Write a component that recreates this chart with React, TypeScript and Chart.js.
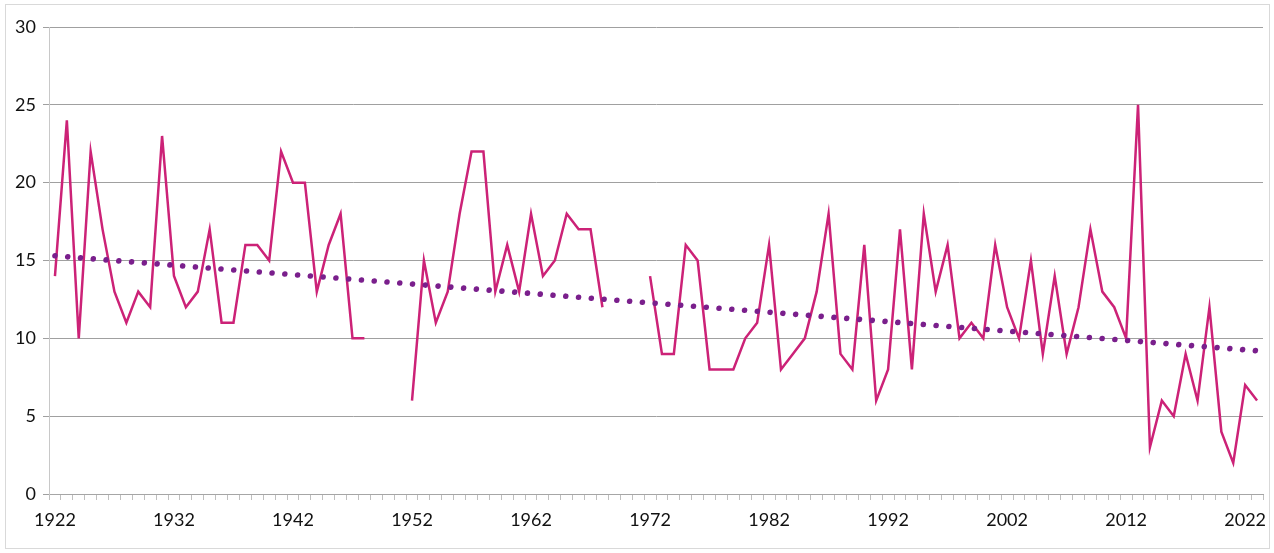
import React, { useEffect, useRef } from "react";
import { Chart, registerables } from "chart.js";

Chart.register(...registerables);

const FIRST_YEAR = 1922;
const YEARS: string[] = Array.from({ length: 102 }, (_, i) => String(FIRST_YEAR + i));

// Values per year, 1922–2023 (null = no data)
const VALUES_1922_1948: (number | null)[] = [
  14, 24, 10, 22, 17, 13, 11, 13, 12, 23,
  14, 12, 13, 17, 11, 11, 16, 16, 15, 22,
  20, 20, 13, 16, 18, 10, 10,
];
const VALUES_1949_1951: (number | null)[] = [null, null, null];
const VALUES_1952_1968: (number | null)[] = [
  6, 15, 11, 13, 18, 22, 22, 13, 16, 13,
  18, 14, 15, 18, 17, 17, 12,
];
const VALUES_1969_1971: (number | null)[] = [null, null, null];
const VALUES_1972_2023: (number | null)[] = [
  14, 9, 9, 16, 15, 8, 8, 8, 10, 11,
  16, 8, 9, 10, 13, 18, 9, 8, 16, 6,
  8, 17, 8, 18, 13, 16, 10, 11, 10, 16,
  12, 10, 15, 9, 14, 9, 12, 17, 13, 12,
  10, 25, 3, 6, 5, 9, 6, 12, 4, 2,
  7, 6,
];
const SERIES: (number | null)[] = [
  ...VALUES_1922_1948,
  ...VALUES_1949_1951,
  ...VALUES_1952_1968,
  ...VALUES_1969_1971,
  ...VALUES_1972_2023,
];

// Linear trend end points
const TREND_START = 15.3;
const TREND_END = 9.2;
const TREND: (number | null)[] = YEARS.map((_, i) =>
  i === 0 ? TREND_START : i === YEARS.length - 1 ? TREND_END : null
);

const Y_TICKS = [0, 5, 10, 15, 20, 25, 30];

export default function App() {
  const ref = useRef<HTMLCanvasElement | null>(null);

  useEffect(() => {
    if (!ref.current) return;
    const chart = new Chart(ref.current, {
      type: "line",
      data: {
        labels: YEARS,
        datasets: [
          {
            label: "Trend",
            data: TREND,
            borderColor: "#7a1f8c",
            borderWidth: 5.6,
            borderDash: [0.01, 12.8],
            borderCapStyle: "round",
            pointRadius: 0,
            spanGaps: true,
            tension: 0,
          },
          {
            label: "Series",
            data: SERIES,
            borderColor: "#cc2277",
            borderWidth: 2.5,
            pointRadius: 0,
            spanGaps: false,
            tension: 0,
          },
        ],
      },
      options: {
        responsive: false,
        animation: false,
        devicePixelRatio: 1,
        layout: { padding: { left: 0, right: 11, top: 27, bottom: 0 } },
        plugins: {
          legend: { display: false },
          tooltip: { enabled: false },
        },
        scales: {
          x: {
            type: "category",
            offset: true,
            grid: {
              offset: true,
              drawOnChartArea: false,
              drawTicks: true,
              tickLength: 6,
              color: "#bfbfbf",
            },
            border: { color: "#a6a6a6", width: 1 },
            ticks: {
              autoSkip: false,
              maxRotation: 0,
              padding: 9,
              color: "#111",
              font: { family: "Lato", size: 18 },
              callback: (_v: any, i: number) =>
                (Number(YEARS[i]) - FIRST_YEAR) % 10 === 0 ? YEARS[i] : "",
            },
            afterFit: (s: any) => {
              s.height = 59;
            },
          },
          y: {
            min: 0,
            max: 30,
            afterBuildTicks: (s: any) => {
              s.ticks = Y_TICKS.map((v) => ({ value: v }));
            },
            grid: {
              color: "#a0a0a0",
              drawTicks: true,
              tickLength: 6,
            },
            border: { color: "#c8c8c8", width: 1 },
            ticks: {
              padding: 7,
              color: "#111",
              font: { family: "Lato", size: 18 },
            },
            afterFit: (s: any) => {
              s.width = 49;
            },
          },
        },
      },
    } as any);
    return () => chart.destroy();
  }, []);

  return (
    <div style={{ position: "absolute", left: 0, top: 0, width: 1274, height: 553, background: "#fff" }}>
      <div
        style={{
          position: "absolute",
          left: 5,
          top: 4,
          width: 1265,
          height: 545,
          border: "1.5px solid #d9d9d9",
          boxSizing: "border-box",
        }}
      />
      <canvas ref={ref} width={1274} height={553} style={{ position: "absolute", left: 0, top: 0 }} />
    </div>
  );
}
